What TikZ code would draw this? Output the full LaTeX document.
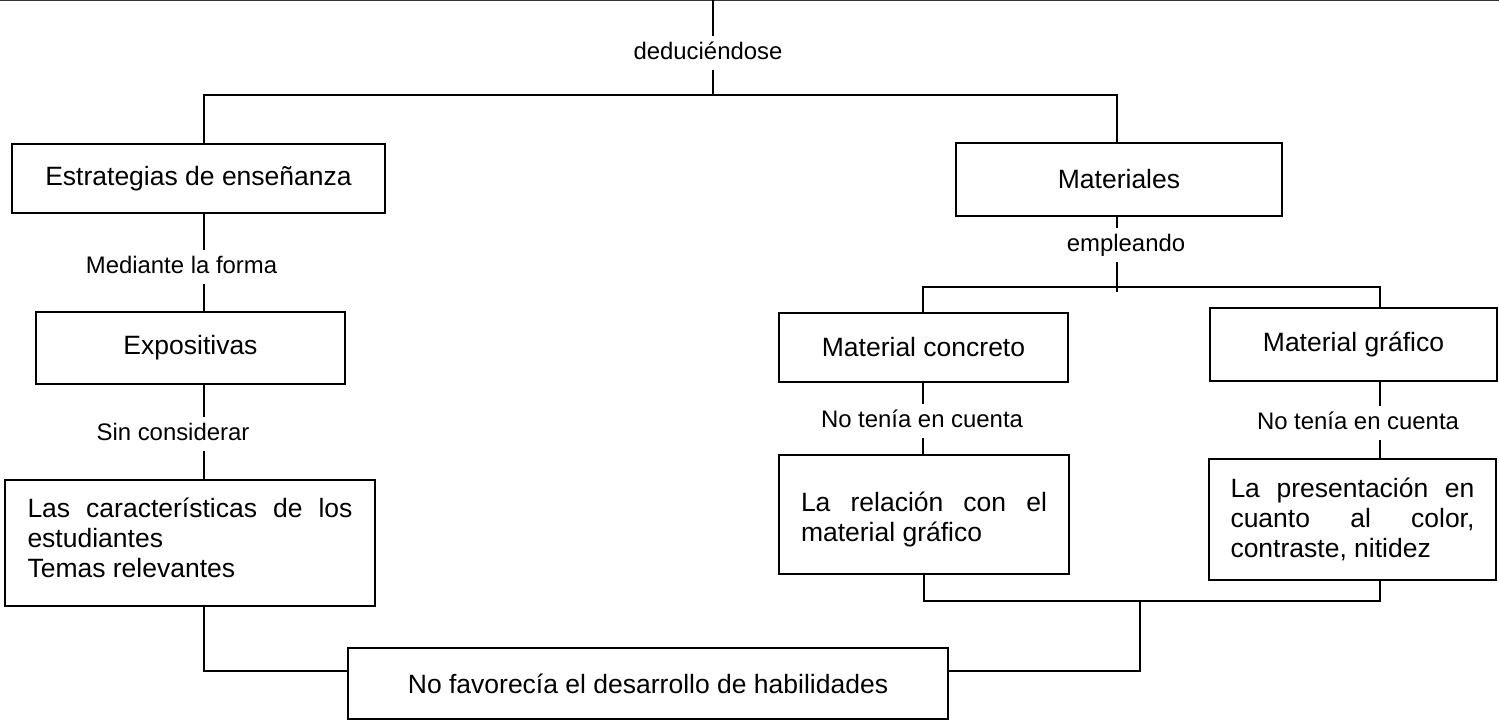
\documentclass[tikz,border=0pt]{standalone}
\usepackage{fontspec}
\setmainfont{Liberation Sans}
\tolerance=10000
\hbadness=10000
\vbadness=10000
\hyphenpenalty=10000
\exhyphenpenalty=10000
\definecolor{topgray}{HTML}{333333}
\begin{document}
\begin{tikzpicture}[x=0.5pt,y=-0.5pt,
  box/.style={draw, line width=1.1pt, inner sep=0pt, font=\fontsize{13.25}{15}\selectfont},
  jbox/.style={box, align=justify},
  lab/.style={inner xsep=1pt, inner ysep=2.5pt, text height=9pt, text depth=2.5pt, font=\fontsize{11.95}{14}\selectfont},
  conn/.style={line width=1pt}]
\useasboundingbox (0,0) rectangle (1499,723);
\draw[topgray, line width=1.2pt] (0,0) -- (1499,0);

% boxes
\node[box, minimum width=186.5pt, minimum height=34.5pt] (est) at (198.5,178.5) {Estrategias de enseñanza};
\node[box, minimum width=163pt, minimum height=36.5pt] (mat) at (1119,179.5) {Materiales};
\node[box, minimum width=154.5pt, minimum height=36pt] (expo) at (190.5,348) {Expositivas};
\node[jbox, minimum width=185pt, minimum height=63pt, text width=162.5pt] (carac) at (190,543)
  {Las características de los\linebreak estudiantes\\Temas relevantes\vspace{5pt}};
\node[box, minimum width=144.5pt, minimum height=34.5pt] (mcon) at (923.5,347.5) {Material concreto};
\node[box, minimum width=143.5pt, minimum height=36.5pt] (mgra) at (1353.5,344.5) {Material gráfico};
\node[jbox, minimum width=145pt, minimum height=59.5pt, text width=123pt] (rel) at (924,514.5)
  {La relación con el\linebreak material gráfico\vspace{-5pt}};
\node[jbox, minimum width=143.5pt, minimum height=60.5pt, text width=122pt] (pres) at (1352.5,519.5)
  {La presentación en\linebreak cuanto al color,\linebreak contraste, nitidez};
\node[box, minimum width=300pt, minimum height=35.5pt] (nof) at (648,683.5) {No favorecía el desarrollo de habilidades};

% labels
\node[lab] (lded) at (708,53) {deduciéndose};
\node[lab] (lmed) at (181.5,267) {Mediante la forma};
\node[lab] (lsin) at (173,434) {Sin considerar};
\node[lab] (lemp) at (1126,245) {empleando};
\node[lab] (lno1) at (922,421) {No tenía en cuenta};
\node[lab] (lno2) at (1358,423) {No tenía en cuenta};

% junction coordinates
\coordinate (top) at (713,0);
\coordinate (jT) at (713,95);
\coordinate (jL) at (204,95);
\coordinate (jR) at (1117,95);
\coordinate (jM) at (1117,287);
\coordinate (jMe) at (1117,292);
\coordinate (jC) at (923,287);
\coordinate (jG) at (1380,287);
\coordinate (bC) at (924,601);
\coordinate (bG) at (1380,601);
\coordinate (bM) at (1140,601);
\coordinate (bM2) at (1140,671);
\coordinate (bL) at (204,671);

% connectors
\draw[conn] (top) -- (top |- lded.north);
\draw[conn] (top |- lded.south) -- (jT);
\draw[conn] (est.north -| jL) -- (jL) -- (jR) -- (mat.north -| jR);

\draw[conn] (est.south -| jL) -- (lmed.north -| jL);
\draw[conn] (lmed.south -| jL) -- (expo.north -| jL);
\draw[conn] (expo.south -| jL) -- (lsin.north -| jL);
\draw[conn] (lsin.south -| jL) -- (carac.north -| jL);

\draw[conn] (mat.south -| jR) -- (lemp.north -| jR);
\draw[conn] (lemp.south -| jM) -- (jMe);
\draw[conn] (mcon.north -| jC) -- (jC) -- (jG) -- (mgra.north -| jG);

\draw[conn] (mcon.south -| jC) -- (lno1.north -| jC);
\draw[conn] (lno1.south -| jC) -- (rel.north -| jC);
\draw[conn] (mgra.south -| jG) -- (lno2.north -| jG);
\draw[conn] (lno2.south -| jG) -- (pres.north -| jG);

\draw[conn] (rel.south -| bC) -- (bC) -- (bG) -- (pres.south -| bG);
\draw[conn] (bM) -- (bM2) -- (nof.east |- bM2);
\draw[conn] (carac.south -| bL) -- (bL) -- (nof.west |- bL);
\end{tikzpicture}
\end{document}
